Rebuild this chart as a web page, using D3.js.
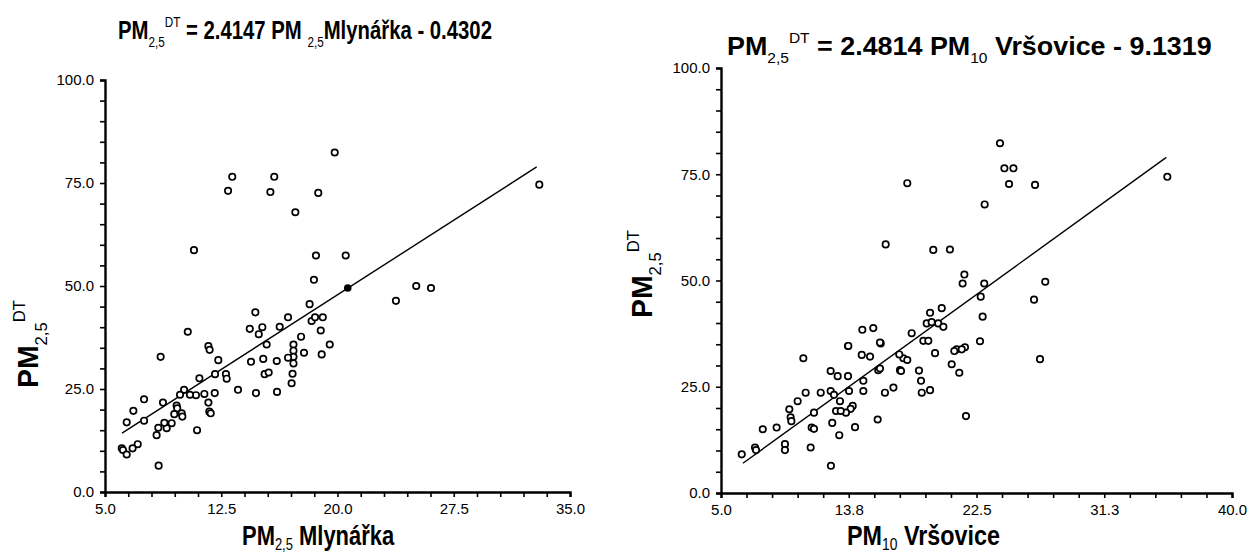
<!DOCTYPE html>
<html>
<head>
<meta charset="utf-8">
<script src="https://cdn.jsdelivr.net/npm/d3@7"></script>
<style>
  html, body { margin: 0; padding: 0; background: #fff; }
  svg { display: block; }
</style>
</head>
<body>
<svg id="chart" width="1252" height="558"></svg>
<script>
// ---------------- DATA ----------------
// Left panel: PM2,5 Mlynářka (x) vs PM2,5 DT (y)
const leftX = [19.82,13.21,15.92,12.94,15.67,18.76,17.28,10.74,18.61,20.53,18.48,25.08,23.77,26.03,33.02,
  18.20,18.33,18.55,19.05,18.92,19.50,18.98,16.81,16.27,14.70,14.34,15.15,14.92,15.43,17.65,
  17.16,17.16,17.16,17.16,16.81,17.84,17.10,17.04,16.08,15.21,15.30,15.56,14.42,16.10,14.74,
  13.58,12.80,12.85,12.31,12.10,12.08,11.67,11.75,11.67,11.73,11.82,11.41,11.09,10.87,10.94,
  10.34,10.48,10.10,9.84,9.62,9.66,9.95,9.99,9.47,9.30,8.98,8.74,8.83,8.59,8.44,8.33,8.46,
  7.52,7.52,6.83,6.40,7.11,6.78,6.08,6.16,6.40];
const leftY = [82.4,76.5,76.5,73.1,72.8,72.6,67.9,58.7,57.4,57.4,51.5,50.0,46.4,49.5,74.6,
  45.6,41.5,42.4,42.4,39.2,35.8,33.4,42.4,40.1,43.6,39.6,40.0,38.3,35.8,37.7,
  35.8,34.3,32.8,31.2,32.6,33.8,28.7,26.4,31.8,32.3,28.6,29.0,31.6,24.3,24.0,
  24.8,28.6,27.5,32.0,28.6,24.0,35.4,34.5,21.7,19.5,19.1,23.8,27.6,23.5,15.0,
  38.9,23.6,24.8,23.6,21.0,20.3,19.1,18.3,18.9,16.7,15.5,21.7,16.8,32.8,15.6,13.8,6.4,
  22.5,17.3,19.7,16.9,11.6,10.6,10.6,10.2,9.1];
const leftHighlight = [[20.66, 49.5]];

// Right panel: PM10 Vršovice (x) vs PM2,5 DT (y)
const rightX = [17.76,16.28,19.54,20.68,20.12,19.32,19.09,19.43,19.88,20.23,18.06,18.86,19.20,14.68,15.43,
  13.70,15.94,24.11,24.41,25.03,24.73,26.51,23.06,21.67,21.55,23.03,27.21,26.44,22.79,22.92,
  35.57,22.74,21.71,21.14,21.49,19.66,20.98,20.80,21.32,21.78,26.85,18.56,18.70,18.75,19.32,
  17.26,17.49,17.76,17.21,17.33,16.81,16.23,15.73,15.89,15.77,15.89,14.64,15.21,14.75,14.75,
  13.72,13.70,13.77,14.02,13.88,13.56,14.18,12.51,12.99,12.51,12.74,13.15,12.88,13.20,12.62,
  13.10,12.53,11.83,11.37,11.21,11.37,11.14,10.64,10.80,10.25,9.68,9.77,9.82,9.38,9.38,
  8.81,7.86,7.33,7.40,6.42];
const rightY = [72.9,58.5,57.2,57.3,43.5,42.4,39.9,40.2,39.9,39.1,37.6,35.8,35.8,38.4,38.8,
  34.6,35.2,82.3,76.4,76.4,72.7,72.5,67.9,51.4,49.3,49.3,49.7,45.5,46.2,41.5,
  74.4,35.7,34.3,33.8,33.8,32.9,33.4,30.3,28.3,18.1,31.5,28.8,26.4,23.6,24.2,
  28.9,31.7,31.3,32.6,28.7,24.8,23.6,17.3,35.4,28.9,29.3,32.5,32.1,26.4,24.0,
  34.6,27.5,24.0,20.5,19.8,18.9,15.5,28.7,27.5,24.0,23.1,21.6,19.3,19.3,16.5,
  13.6,6.4,23.6,18.9,15.4,15.1,10.7,31.7,23.6,21.6,19.7,17.8,16.9,11.5,10.1,
  15.4,15.0,10.7,10.1,9.1];

// Regression lines
const leftFit  = { slope: 2.4147, intercept: -0.4302, from: 6.1, to: 32.85 };
const rightFit = { slope: 2.4814, intercept: -9.1319, from: 6.5, to: 35.5 };

// Axes
const yDomain = [0, 100];
const yMajor = [0, 25, 50, 75, 100];
const leftXDomain = [5, 35];
const leftXMajor = [5.0, 12.5, 20.0, 27.5, 35.0];
const leftXLabels = ["5.0", "12.5", "20.0", "27.5", "35.0"];
const rightXDomain = [5, 40];
const rightXMajor = [5.0, 13.75, 22.5, 31.25, 40.0];
const rightXLabels = ["5.0", "13.8", "22.5", "31.3", "40.0"];

// Texts (parts: [text, kind]) kind: n = normal, b = subscript, p = superscript
const leftTitle  = [["PM","n"],["2,5","b"],["DT","p"],[" = 2.4147 PM ","n"],["2,5","b"],["Mlynářka - 0.4302","n"]];
const rightTitle = [["PM","n"],["2,5","b"],["DT","p"],[" = 2.4814 PM","n"],["10","b"],[" Vršovice - 9.1319","n"]];
const leftXTitle  = [["PM","n"],["2,5","b"],[" Mlynářka","n"]];
const rightXTitle = [["PM","n"],["10","b"],[" Vršovice","n"]];
const yTitle = [["PM","n"],["2,5","b"],["DT","p"]];

// ---------------- DRAWING ----------------
const svg = d3.select("#chart");
svg.append("rect").attr("width", 1252).attr("height", 558).attr("fill", "#fff");

const FONT = "'Liberation Sans Narrow', 'Liberation Sans', Arial, sans-serif";

function richText(g, parts, size, subSize, subShift) {
  const t = g.append("text")
    .attr("font-family", FONT)
    .attr("font-weight", "bold")
    .attr("font-size", size)
    .attr("fill", "#000");
  let offset = 0;
  parts.forEach(([s, k]) => {
    let target = 0;
    if (k === "b") target = size * subShift;
    if (k === "p") target = -size * 0.45;
    const ts = t.append("tspan").text(s)
      .attr("font-size", k === "n" ? size : subSize)
      .attr("dy", target - offset);
    if (k !== "n") ts.attr("font-weight", "normal");
    offset = target;
  });
  return t;
}

function fitted(parts, size, subSize, x, y, width, rotate, subShift = 0.3) {
  const g = svg.append("g");
  const t = richText(g, parts, size, subSize, subShift);
  const w = t.node().getBBox().width;
  const sx = width / w;
  g.attr("transform", `translate(${x},${y})` + (rotate ? " rotate(-90)" : "") + ` scale(${sx},1)`);
  return g;
}

function panel(cfg) {
  const x = d3.scaleLinear().domain(cfg.xDomain).range(cfg.xRange);
  const y = d3.scaleLinear().domain(yDomain).range(cfg.yRange);
  const g = svg.append("g");

  // x axis
  const xMinorStep = (cfg.xMajor[1] - cfg.xMajor[0]) / 5;
  const xTicks = d3.range(0, Math.round((cfg.xDomain[1] - cfg.xDomain[0]) / xMinorStep) + 1)
    .map(i => cfg.xDomain[0] + i * xMinorStep);
  const xAxis = d3.axisBottom(x).tickValues(xTicks).tickSizeOuter(0).tickSize(5).tickPadding(6)
    .tickFormat((d, i) => (i % 5 === 0 ? cfg.xLabels[i / 5] : ""));
  const gx = g.append("g").attr("transform", `translate(0,${cfg.yRange[0]})`).call(xAxis);

  // y axis
  const yTicks = d3.range(0, 21).map(i => i * 5);
  const yAxis = d3.axisLeft(y).tickValues(yTicks).tickSizeOuter(0).tickSize(5).tickPadding(6)
    .tickFormat(d => (yMajor.includes(d) ? d.toFixed(1) : ""));
  const gy = g.append("g").attr("transform", `translate(${cfg.xRange[0]},0)`).call(yAxis);

  [gx, gy].forEach(a => {
    a.select(".domain").attr("stroke", "#000").attr("stroke-width", 2.4);
    a.selectAll(".tick line").attr("stroke", "#000").attr("stroke-width", 1.6);
    a.selectAll(".tick text").attr("font-family", FONT).attr("font-size", 15).attr("fill", "#000");
  });

  // regression line
  const line = d3.line().x(d => x(d)).y(d => y(cfg.fit.slope * d + cfg.fit.intercept));
  g.append("path").datum([cfg.fit.from, cfg.fit.to]).attr("d", line)
    .attr("fill", "none").attr("stroke", "#000").attr("stroke-width", 1.4);

  // points
  g.append("g").selectAll("circle").data(cfg.xs.map((v, i) => [v, cfg.ys[i]])).join("circle")
    .attr("cx", d => x(d[0])).attr("cy", d => y(d[1])).attr("r", 3.2)
    .attr("fill", "#fff").attr("stroke", "#000").attr("stroke-width", 1.7);
  if (cfg.highlight) {
    g.append("g").selectAll("circle").data(cfg.highlight).join("circle")
      .attr("cx", d => x(d[0])).attr("cy", d => y(d[1])).attr("r", 3.8)
      .attr("fill", "#000");
  }
}

panel({ xDomain: leftXDomain, xRange: [105, 570], yRange: [492, 80], xMajor: leftXMajor,
        xLabels: leftXLabels, xs: leftX, ys: leftY, fit: leftFit, highlight: leftHighlight });
panel({ xDomain: rightXDomain, xRange: [721, 1232], yRange: [493, 68], xMajor: rightXMajor,
        xLabels: rightXLabels, xs: rightX, ys: rightY, fit: rightFit });

// titles and axis labels
fitted(leftTitle, 26, 15, 118, 39, 374, false);
fitted(rightTitle, 26, 15, 727, 55, 485, false);
fitted(leftXTitle, 27, 16, 242, 545, 153, false, 0.2);
fitted(rightXTitle, 27, 16, 847, 545, 153, false, 0.2);
fitted(yTitle, 29, 17, 38, 388, 88, true);
fitted(yTitle, 29, 17, 652, 318, 88, true);
</script>
</body>
</html>
